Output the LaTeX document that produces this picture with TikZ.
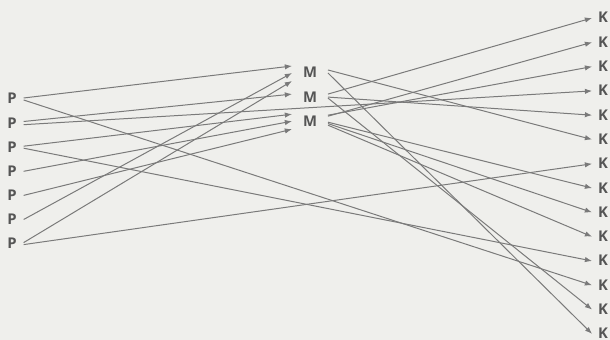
\documentclass[tikz,border=0pt]{standalone}
\usepackage{fontspec}
\setmainfont{Open Sans}
\usepackage{tikz}
\usetikzlibrary{arrows.meta,positioning}
\definecolor{bggray}{HTML}{EFEFEC}
\definecolor{textgray}{HTML}{555555}
\definecolor{linegray}{HTML}{7A7A7A}

\begin{document}
\begin{tikzpicture}[x=0.5pt,y=-0.5pt,node distance=6.65pt,
  lbl/.style={font=\bfseries\fontsize{7.4}{8}\selectfont,text=textgray,
    text height=5pt,text depth=0pt,inner ysep=0pt},
  pnode/.style={lbl,inner xsep=3.3pt},
  mnode/.style={lbl,inner xsep=5.3pt},
  knode/.style={lbl,inner xsep=2.8pt,node distance=6.75pt},
  arr/.style={->,>={Latex[length=3.6pt,width=2.7pt]},draw=linegray,line width=0.5pt}]
  \fill[bggray] (0,0) rectangle (610,340);
  \useasboundingbox (0,0) rectangle (610,340);
  % left column
  \node[pnode] (p1) at (12,99) {P};
  \node[pnode,below=of p1] (p2) {P};
  \node[pnode,below=of p2] (p3) {P};
  \node[pnode,below=of p3] (p4) {P};
  \node[pnode,below=of p4] (p5) {P};
  \node[pnode,below=of p5] (p6) {P};
  \node[pnode,below=of p6] (p7) {P};
  % middle column
  \node[mnode] (m1) at (310,73) {M};
  \node[mnode,below=of m1] (m2) {M};
  \node[mnode,below=of m2] (m3) {M};
  % right column
  \node[knode] (k1) at (603,18) {K};
  \node[knode,below=of k1] (k2) {K};
  \node[knode,below=of k2] (k3) {K};
  \node[knode,below=of k3] (k4) {K};
  \node[knode,below=of k4] (k5) {K};
  \node[knode,below=of k5] (k6) {K};
  \node[knode,below=of k6] (k7) {K};
  \node[knode,below=of k7] (k8) {K};
  \node[knode,below=of k8] (k9) {K};
  \node[knode,below=of k9] (k10) {K};
  \node[knode,below=of k10] (k11) {K};
  \node[knode,below=of k11] (k12) {K};
  \node[knode,below=of k12] (k13) {K};
  \node[knode,below=of k13] (k14) {K};
  % P to M
  \draw[arr] ([yshift=0.5pt]p1.east)--([yshift=3.5pt]m1.west);
  \draw[arr] ([yshift=0.8pt]p2.east)--([yshift=1.5pt]m2.west);
  \draw[arr] ([yshift=0.5pt]p3.east)--([yshift=3.5pt]m3.west);
  \draw[arr] (p4.east)--(m3.west);
  \draw[arr] (p5.east)--([yshift=-4pt]m3.west);
  \draw[arr] (p6.east)--(m1.west);
  \draw[arr] ([yshift=0.5pt]p7.east)--([yshift=-4pt]m1.west);
  % P to K
  \draw[arr] ([yshift=-0.5pt]p1.east)--(k12.west);
  \draw[arr] ([yshift=-0.8pt]p2.east)--(k4.west);
  \draw[arr] ([yshift=-0.5pt]p3.east)--(k11.west);
  \draw[arr] ([yshift=-0.5pt]p7.east)--(k7.west);
  % M to K
  \draw[arr] ([yshift=1.5pt]m1.east)--(k6.west);
  \draw[arr] (m1.east)--(k14.west);
  \draw[arr] ([yshift=1.5pt]m2.east)--(k1.west);
  \draw[arr] (m2.east)--(k5.west);
  \draw[arr] ([yshift=-0.5pt]m2.east)--(k13.west);
  \draw[arr] ([yshift=2.5pt]m3.east)--(k2.west);
  \draw[arr] ([yshift=3pt]m3.east)--(k3.west);
  \draw[arr] ([yshift=-0.5pt]m3.east)--(k8.west);
  \draw[arr] ([yshift=-1.2pt]m3.east)--(k9.west);
  \draw[arr] ([yshift=-2pt]m3.east)--(k10.west);
\end{tikzpicture}
\end{document}
